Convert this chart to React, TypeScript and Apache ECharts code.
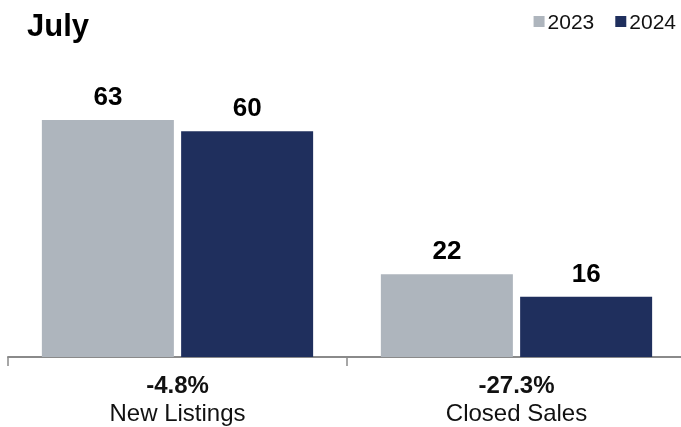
import React, { useEffect, useRef } from "react";
import * as echarts from "echarts";

const categories = ["New Listings", "Closed Sales"];
const changes = ["-4.8%", "-27.3%"];
const seriesNames = ["2023", "2024"];
const values2023 = [63, 22];
const values2024 = [60, 16];
const colors = ["#aeb5bd", "#1f2f5d"];

export default function App() {
  const ref = useRef<HTMLDivElement>(null);
  useEffect(() => {
    if (!ref.current) return;
    const chart = echarts.init(ref.current, null, { renderer: "svg" });
    const font = "'Liberation Sans', Arial, Helvetica, sans-serif";
    const valueLabel = {
      show: true,
      position: "top",
      distance: 11,
      fontFamily: font,
      fontWeight: "bold",
      fontSize: 26,
      color: "#000",
    };
    chart.setOption({
      animation: false,
      title: {
        text: "July",
        left: 22,
        top: 5,
        textStyle: {
          fontFamily: font,
          fontWeight: "bold",
          fontSize: 31,
          color: "#000",
        },
      },
      legend: {
        right: 9,
        top: 6,
        itemWidth: 11,
        itemHeight: 11,
        itemGap: 21,
        icon: "rect",
        textStyle: { fontFamily: font, fontSize: 21, color: "#111", padding: [0, 0, 0, -2] },
        data: seriesNames,
      },
      grid: { left: 8, width: 678, top: 56, bottom: 70, containLabel: false },
      xAxis: {
        type: "category",
        data: categories,
        axisLine: { lineStyle: { color: "#8a8a8a", width: 2 } },
        axisTick: { show: true, length: 9, lineStyle: { color: "#8a8a8a", width: 1.5 } },
        axisLabel: {
          margin: 13,
          interval: 0,
          formatter: (v: string, i: number) => `{b|${changes[i]}}\n{n|${v}}`,
          rich: {
            b: { fontFamily: font, fontSize: 24, fontWeight: "bold", color: "#111", lineHeight: 28 },
            n: { fontFamily: font, fontSize: 24, color: "#111", lineHeight: 28 },
          },
        },
      },
      yAxis: { type: "value", min: 0, max: 80, show: false, splitLine: { show: false } },
      series: [
        {
          name: seriesNames[0],
          type: "bar",
          data: values2023,
          barWidth: 132,
          barGap: "5.5%",
          itemStyle: { color: colors[0] },
          label: valueLabel,
        },
        {
          name: seriesNames[1],
          type: "bar",
          data: values2024,
          barWidth: 132,
          barGap: "5.5%",
          itemStyle: { color: colors[1] },
          label: valueLabel,
        },
      ],
    });
    return () => chart.dispose();
  }, []);
  return <div ref={ref} style={{ width: 690, height: 427, position: "fixed", left: 0, top: 0 }} />;
}
